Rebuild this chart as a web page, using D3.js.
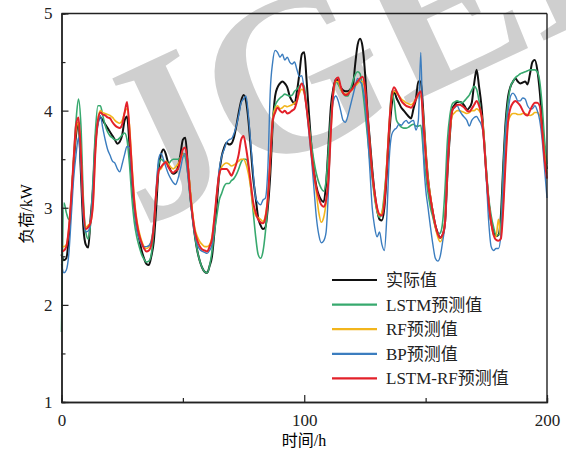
<!DOCTYPE html>
<html>
<head>
<meta charset="utf-8">
<script src="https://cdn.jsdelivr.net/npm/d3@7"></script>
<style>
  body { margin: 0; background: #fff; }
  text { font-family: "Liberation Serif", "Noto Sans CJK SC", serif; }
</style>
</head>
<body>
<svg id="chart" width="566" height="454"></svg>
<script>
// hourly samples, h = 0..200
var hours = d3.range(0, 201);

var actual = [
  2.52,2.46,2.48,2.7,3.05,3.45,3.75,3.88,3.35,2.8,2.62,2.59,2.9,
  3.2,3.7,3.88,3.93,3.9,3.86,3.82,3.78,3.74,3.7,3.66,3.68,3.75,3.9,3.94,3.65,
  3.25,3.0,2.8,2.68,2.56,2.48,2.42,2.41,2.5,2.65,3.0,3.4,
  3.55,3.6,3.55,3.45,3.38,3.35,3.36,3.42,3.55,3.7,3.72,3.45,3.15,2.9,2.7,2.55,
  2.45,2.38,2.34,2.33,2.4,2.5,2.75,3.05,3.35,3.53,3.62,3.67,
  3.65,3.66,3.72,3.84,3.98,4.1,4.16,4.1,3.9,3.6,3.3,3.1,
  2.9,2.82,2.78,2.8,3.0,3.34,3.85,4.15,4.24,4.28,4.3,4.28,4.24,4.15,4.1,4.07,
  4.2,4.38,4.58,4.6,4.3,3.95,3.62,3.38,3.22,3.13,3.08,3.06,3.25,3.65,4.05,4.23,
  4.32,4.3,4.24,4.21,4.2,4.2,4.22,4.25,4.48,4.68,4.74,4.66,4.4,4.0,3.7,3.4,
  3.15,2.98,2.88,2.87,3.0,3.35,3.75,4.05,4.2,4.13,4.08,4.03,4.0,3.97,3.94,3.92,
  4.02,4.12,4.3,4.3,4.0,3.6,3.3,3.1,2.95,2.82,2.74,2.69,2.72,2.85,3.35,3.75,
  4.02,4.06,4.09,4.09,4.08,4.05,4.01,4.03,4.08,4.28,4.42,4.25,4.05,3.72,3.35,3.05,
  2.85,2.75,2.71,2.72,2.92,3.45,3.9,4.15,4.25,4.3,4.33,4.3,4.28,4.29,4.3,4.27,
  4.38,4.5,4.52,4.42,4.2,3.88,3.55,3.4
];

var lstm = [
  1.72,3.05,2.95,2.88,3.05,3.5,3.9,4.12,3.85,3.1,2.75,2.68,2.85,
  3.3,3.8,4.05,4.05,3.95,3.85,3.78,3.74,3.72,3.7,3.7,3.72,3.75,3.77,3.7,3.45,
  3.1,2.85,2.7,2.6,2.52,2.47,2.44,2.45,2.52,2.75,3.15,3.45,
  3.5,3.48,3.46,3.45,3.48,3.5,3.5,3.5,3.52,3.56,3.52,3.35,3.1,2.9,2.7,2.55,
  2.45,2.38,2.34,2.33,2.4,2.55,2.75,2.92,3.08,3.15,3.22,3.25,
  3.25,3.28,3.3,3.34,3.4,3.47,3.5,3.5,3.42,3.2,2.95,2.7,
  2.52,2.48,2.55,2.75,3.05,3.5,3.9,4.05,4.1,4.13,4.15,4.17,4.16,4.15,4.16,4.2,
  4.22,4.25,4.28,4.25,4.03,3.85,3.65,3.48,3.35,3.26,3.2,3.17,3.28,3.6,3.95,4.17,
  4.3,4.27,4.22,4.18,4.15,4.15,4.22,4.3,4.37,4.4,4.38,4.22,4.0,3.75,3.5,3.3,
  3.1,2.96,2.9,2.95,3.15,3.45,3.85,4.2,4.1,3.9,3.86,3.83,3.82,3.82,3.83,3.85,
  3.86,3.84,3.84,3.85,3.6,3.35,3.15,3.0,2.9,2.8,2.73,2.74,2.85,3.2,3.7,3.95,
  4.07,4.09,4.1,4.09,4.08,4.1,4.13,4.16,4.21,4.25,4.22,4.1,3.95,3.75,3.4,3.1,
  2.92,2.8,2.72,2.72,2.84,3.4,3.85,4.1,4.25,4.3,4.34,4.36,4.38,4.39,4.4,4.41,
  4.42,4.42,4.42,4.4,4.3,4.05,3.7,3.45
];

var rf = [
  2.6,2.6,2.62,2.78,3.1,3.5,3.8,3.88,3.55,3.0,2.8,2.82,2.85,
  3.05,3.6,3.9,4.0,3.98,3.97,3.96,3.95,3.93,3.9,3.88,3.87,3.9,3.98,4.02,3.85,
  3.45,3.1,2.88,2.75,2.66,2.6,2.58,2.6,2.66,2.82,3.15,3.38,
  3.4,3.45,3.48,3.45,3.42,3.4,3.42,3.45,3.5,3.55,3.55,3.45,3.2,2.95,2.78,2.7,
  2.65,2.62,2.6,2.6,2.62,2.7,2.9,3.15,3.35,3.42,3.45,3.46,
  3.45,3.43,3.44,3.46,3.48,3.5,3.5,3.45,3.35,3.2,3.0,2.92,
  2.9,2.88,2.86,2.92,3.12,3.5,3.9,4.02,4.05,4.02,4.03,4.05,4.04,4.05,4.06,4.08,
  4.1,4.18,4.22,4.18,4.02,3.8,3.55,3.35,3.15,2.95,2.85,2.9,3.05,3.3,3.8,4.18,
  4.3,4.3,4.22,4.18,4.17,4.18,4.2,4.22,4.25,4.28,4.3,4.3,4.2,3.95,3.65,3.35,
  3.12,2.98,2.92,2.95,3.1,3.45,3.85,4.12,4.2,4.18,4.15,4.12,4.1,4.08,4.07,4.06,
  4.08,4.12,4.15,4.15,3.95,3.6,3.3,3.12,2.95,2.8,2.7,2.65,2.7,2.88,3.4,3.78,
  3.95,3.98,4.0,4.0,3.99,3.98,3.97,3.98,4.0,4.0,4.02,4.0,3.95,3.75,3.35,3.05,
  2.85,2.72,2.7,2.88,2.7,3.05,3.55,3.88,3.95,3.97,3.97,3.96,3.96,3.97,3.97,3.96,
  3.95,3.96,3.98,3.98,3.95,3.8,3.55,3.35
];

var bp = [
  2.42,2.33,2.36,2.52,2.9,3.3,3.55,3.72,3.4,2.9,2.75,2.76,2.85,
  3.2,3.65,3.85,3.95,3.82,3.7,3.6,3.54,3.48,3.46,3.4,3.37,3.45,3.55,3.63,3.62,
  3.3,3.0,2.78,2.68,2.62,2.6,2.6,2.61,2.66,2.85,3.2,3.5,
  3.56,3.5,3.42,3.35,3.3,3.26,3.24,3.3,3.4,3.52,3.56,3.35,3.1,2.88,2.72,2.62,
  2.57,2.55,2.54,2.53,2.56,2.62,2.85,3.15,3.4,3.53,3.6,3.67,
  3.7,3.71,3.76,3.84,3.95,4.08,4.12,4.15,3.95,3.65,3.35,3.1,
  3.05,3.03,3.08,3.1,3.4,4.2,4.5,4.62,4.6,4.55,4.58,4.52,4.55,4.5,4.48,4.5,
  4.42,4.35,4.36,4.2,4.0,3.75,3.5,3.2,2.9,2.72,2.64,2.66,2.75,3.2,3.85,4.1,
  4.15,4.1,4.0,3.9,3.88,3.95,4.05,4.15,4.25,4.33,4.3,4.25,4.1,3.8,3.4,3.0,
  2.8,2.7,2.75,2.62,2.56,2.9,3.5,3.75,3.8,3.82,3.86,3.85,3.88,3.9,3.87,3.89,
  3.9,3.8,3.9,4.6,3.6,3.2,3.0,2.8,2.62,2.48,2.45,2.5,2.65,2.85,3.5,3.85,
  4.0,4.03,4.05,4.0,3.96,3.93,3.9,3.84,3.9,3.93,3.94,3.9,3.85,3.72,3.3,2.85,
  2.6,2.56,2.58,2.58,2.72,3.3,3.8,4.0,4.15,4.18,4.15,4.1,4.1,4.13,4.12,4.05,
  4.02,4.02,4.05,4.0,3.9,3.7,3.4,3.1
];

var lstmRf = [
  2.55,2.56,2.6,2.78,3.1,3.5,3.85,3.93,3.55,3.0,2.78,2.8,2.85,
  3.05,3.6,3.9,3.98,3.96,3.95,3.93,3.92,3.88,3.85,3.83,3.82,3.86,3.98,4.09,3.8,
  3.4,3.05,2.85,2.72,2.64,2.58,2.55,2.56,2.62,2.8,3.15,3.38,
  3.42,3.45,3.47,3.42,3.38,3.36,3.38,3.4,3.5,3.6,3.62,3.45,3.15,2.92,2.75,2.66,
  2.6,2.57,2.56,2.55,2.6,2.68,2.9,3.15,3.35,3.4,3.4,3.4,
  3.37,3.33,3.38,3.45,3.55,3.7,3.74,3.62,3.45,3.25,3.05,2.95,
  2.88,2.85,2.84,2.9,3.1,3.5,3.9,3.98,4.03,4.0,3.98,4.0,3.97,3.98,4.0,4.02,
  4.1,4.22,4.28,4.2,4.02,3.8,3.55,3.35,3.2,3.1,3.03,3.01,3.08,3.3,3.8,4.2,
  4.32,4.34,4.25,4.18,4.16,4.17,4.2,4.23,4.27,4.3,4.33,4.35,4.25,3.97,3.65,3.35,
  3.15,3.0,2.93,2.92,3.05,3.4,3.85,4.15,4.24,4.2,4.15,4.1,4.07,4.05,4.04,4.03,
  4.06,4.12,4.17,4.2,3.9,3.55,3.25,3.1,2.95,2.82,2.73,2.69,2.72,2.85,3.4,3.8,
  4.0,4.04,4.06,4.06,4.05,4.03,4.0,3.99,4.02,4.06,4.1,4.05,3.95,3.7,3.35,3.05,
  2.85,2.72,2.67,2.66,2.68,3.0,3.5,3.9,4.03,4.08,4.1,4.08,4.05,4.0,3.96,3.95,
  4.0,4.05,4.08,4.08,4.05,3.8,3.5,3.3
];

var seriesNames = ["实际值", "LSTM预测值", "RF预测值", "BP预测值", "LSTM-RF预测值"];
var seriesColors = ["#111111", "#37a96e", "#f2b51c", "#3b7dbf", "#e3212a"];
var seriesValues = [actual, lstm, rf, bp, lstmRf];

var xMajor = [0, 100, 200];
var xMinor = [50, 150];
var yMajor = [1, 2, 3, 4, 5];
var yMinor = [1.5, 2.5, 3.5, 4.5];

var svg = d3.select("#chart");

var x = d3.scaleLinear().domain([0, 200]).range([61.5, 547]);
var y = d3.scaleLinear().domain([1, 5]).range([402, 13.5]);

// watermark behind everything
svg.append("text")
    .attr("transform", "translate(142,228) rotate(-25)")
    .attr("font-size", 226)
    .attr("font-weight", "bold")
    .attr("fill", "#cfcfcf")
    .text("JGEE");

// lines
var line = d3.line()
    .x(function(d, i) { return x(hours[i]); })
    .y(function(d) { return y(d); })
    .curve(d3.curveMonotoneX);

var widths = [2, 1.6, 1.6, 1.4, 2];
seriesValues.forEach(function(vals, k) {
    svg.append("path")
        .datum(vals)
        .attr("fill", "none")
        .attr("stroke", seriesColors[k])
        .attr("stroke-width", widths[k])
        .attr("stroke-linejoin", "round")
        .attr("d", line);
});

// axes, ticks pointing inward
var axisStyle = function(g) {
    g.selectAll(".domain").attr("stroke", "#222").attr("stroke-width", 1.4);
    g.selectAll(".tick line").attr("stroke", "#222").attr("stroke-width", 1.2);
    g.selectAll("text").attr("font-size", 17).attr("fill", "#222")
        .attr("font-family", "Liberation Serif");
};

svg.append("g")
    .attr("transform", "translate(0,402)")
    .call(d3.axisBottom(x).tickValues(xMinor).tickSize(-4).tickFormat(""))
    .call(axisStyle);
svg.append("g")
    .attr("transform", "translate(0,402)")
    .call(d3.axisBottom(x).tickValues(xMajor).tickSizeInner(-7).tickSizeOuter(0).tickPadding(12)
        .tickFormat(d3.format("d")))
    .call(axisStyle);

svg.append("g")
    .attr("transform", "translate(61.5,0)")
    .call(d3.axisLeft(y).tickValues(yMinor).tickSize(-4).tickFormat(""))
    .call(axisStyle);
svg.append("g")
    .attr("transform", "translate(61.5,0)")
    .call(d3.axisLeft(y).tickValues(yMajor).tickSizeInner(-7).tickSizeOuter(0).tickPadding(9)
        .tickFormat(d3.format("d")))
    .call(axisStyle);

// top and right frame
svg.append("line").attr("x1", x(0)).attr("x2", x(200)).attr("y1", y(5)).attr("y2", y(5))
    .attr("stroke", "#222").attr("stroke-width", 1.4);
svg.append("line").attr("x1", x(200)).attr("x2", x(200)).attr("y1", y(5)).attr("y2", y(1))
    .attr("stroke", "#222").attr("stroke-width", 1.4);

// axis titles
svg.append("text")
    .attr("x", 304).attr("y", 446)
    .attr("text-anchor", "middle")
    .attr("font-size", 16)
    .text("时间/h");
svg.append("text")
    .attr("transform", "translate(32,214) rotate(-90)")
    .attr("text-anchor", "middle")
    .attr("font-size", 16)
    .text("负荷/kW");

// legend
var legend = svg.append("g").attr("transform", "translate(332,280)");
seriesNames.forEach(function(name, k) {
    var row = legend.append("g").attr("transform", "translate(0," + (k * 24.6) + ")");
    row.append("line").attr("x1", 0).attr("x2", 45)
        .attr("stroke", seriesColors[k]).attr("stroke-width", 2.2);
    row.append("text").attr("x", 54).attr("dy", "0.35em")
        .attr("font-size", 17).attr("fill", "#222")
        .text(name);
});
</script>
</body>
</html>
